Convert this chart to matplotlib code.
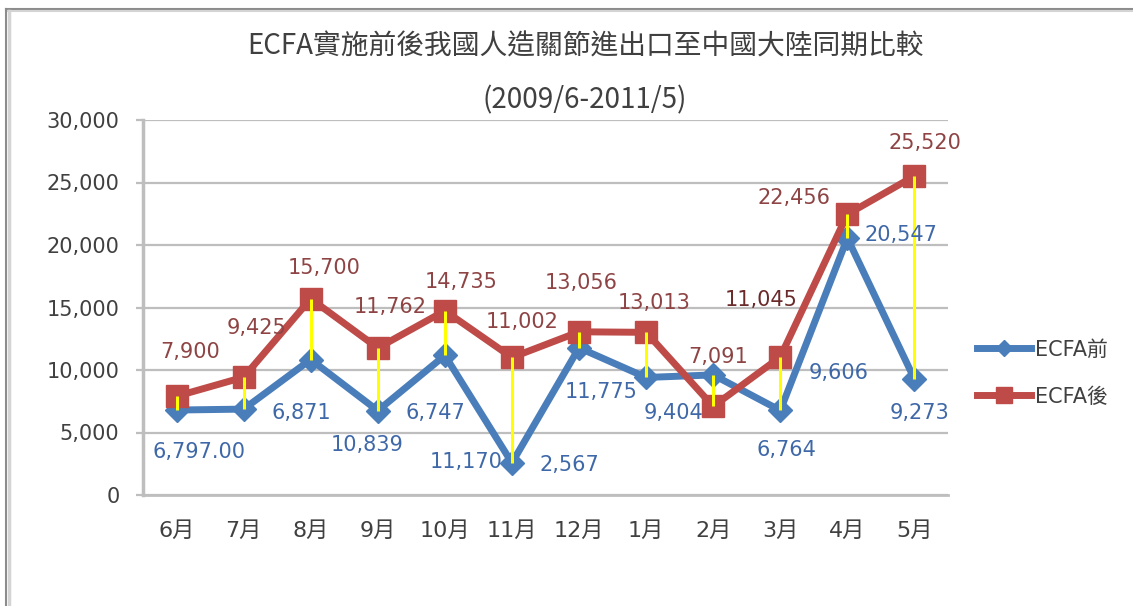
import numpy as np
import matplotlib
matplotlib.use('Agg')
import matplotlib.pyplot as plt
from matplotlib.lines import Line2D
from matplotlib.ticker import FuncFormatter

# --- data ---
months = ['6月', '7月', '8月', '9月', '10月', '11月', '12月', '1月', '2月', '3月', '4月', '5月']
before = [6797, 6871, 10839, 6747, 11170, 2567, 11775, 9404, 9606, 6764, 20547, 9273]
after = [7900, 9425, 15700, 11762, 14735, 11002, 13056, 13013, 7091, 11045, 22456, 25520]
before_labels = ['6,797.00', '6,871', '10,839', '6,747', '11,170', '2,567',
                 '11,775', '9,404', '9,606', '6,764', '20,547', '9,273']
after_labels = ['7,900', '9,425', '15,700', '11,762', '14,735', '11,002',
                '13,056', '13,013', '7,091', '11,045', '22,456', '25,520']

# label offsets in pixels (the source chart has hand-placed labels)
before_off = [(22, -42), (58, -4), (56, -85), (58, -2), (21, -107), (57, -2),
              (22, -44), (27, -36), (125, 2), (6, -40), (54, 3), (5, -34)]
after_off = [(14, 44), (13, 49), (13, 31), (12, 41), (16, 29), (10, 35),
             (2, 49), (8, 29), (5, 49), (-19, 57), (-53, 16), (10, 33)]

BLUE = '#4A7EBB'
RED = '#BE4B48'
GRID = '#BEBEBE'
TXT = '#404040'

plt.rcParams['font.family'] = ['DejaVu Sans', 'Noto Sans CJK TC']

W, H = 1133, 606
fig = plt.figure(figsize=(W / 100, H / 100), dpi=100)
ax = fig.add_axes([143 / W, 1 - 495 / H, (948 - 143) / W, (495 - 120) / H])

x = np.arange(len(months))

ax.plot(x, before, color=BLUE, lw=5, marker='D', ms=12, mec=BLUE, mfc=BLUE,
        zorder=3, label='ECFA前')
ax.plot(x, after, color=RED, lw=5, marker='s', ms=16, mec=RED, mfc=RED,
        zorder=4, label='ECFA後')
ax.vlines(x, before, after, color='#FFFF00', lw=2.2, zorder=6)

for i in range(len(x)):
    ax.annotate(before_labels[i], (x[i], before[i]), xytext=before_off[i],
                textcoords='offset pixels', ha='center', va='center',
                fontsize=15, color='#3F68A8', zorder=7)
    ax.annotate(after_labels[i], (x[i], after[i]), xytext=after_off[i],
                textcoords='offset pixels', ha='center', va='center',
                fontsize=15, zorder=7,
                color='#6A2A2A' if after_labels[i] == '11,045' else '#8E4444')

ax.set_xlim(-0.5, len(months) - 0.5)
ax.set_ylim(0, 30000)
ax.set_yticks(np.arange(0, 30001, 5000))
ax.yaxis.set_major_formatter(FuncFormatter(lambda v, p: f'{int(v):,}'))
ax.set_xticks(x)
ax.set_xticklabels(months)

ax.grid(axis='y', color=GRID, lw=1.6)
ax.set_axisbelow(True)
for s in ['top', 'right']:
    ax.spines[s].set_visible(False)
ax.spines['left'].set_color(GRID)
ax.spines['left'].set_linewidth(2.5)
ax.spines['bottom'].set_color(GRID)
ax.spines['bottom'].set_linewidth(2)
ax.tick_params(axis='y', length=5, width=1.6, color=GRID, pad=12,
               labelsize=15, labelcolor=TXT)
ax.tick_params(axis='x', length=0, pad=19, labelsize=16, labelcolor=TXT)

fig.text(585 / W, 1 - 47 / H, 'ECFA實施前後我國人造關節進出口至中國大陸同期比較',
         ha='center', va='center', fontsize=20, color=TXT,
         family=['Noto Sans CJK TC', 'DejaVu Sans'])
fig.text(585 / W, 1 - 100 / H, '(2009/6-2011/5)',
         ha='center', va='center', fontsize=20, color=TXT,
         family=['Noto Sans CJK TC', 'DejaVu Sans'])

fig.legend(loc='center left', bbox_to_anchor=(958 / W, 1 - 373 / H),
           frameon=False, fontsize=15, handlelength=2.6, handletextpad=0.2,
           labelspacing=1.3, markerscale=0.7, labelcolor=TXT)

# chart border (top and left edges only visible)
fig.add_artist(Line2D([6 / W, 1], [1 - 9 / H, 1 - 9 / H], color='#8C8C8C', lw=1.5))
fig.add_artist(Line2D([8 / W, 1], [1 - 11 / H, 1 - 11 / H], color='#D4D4D4', lw=1.5))
fig.add_artist(Line2D([6 / W, 6 / W], [0, 1 - 9 / H], color='#8C8C8C', lw=1.5))
fig.add_artist(Line2D([9 / W, 9 / W], [0, 1 - 11 / H], color='#D4D4D4', lw=2.5))

fig.savefig('out.png', dpi=100)
